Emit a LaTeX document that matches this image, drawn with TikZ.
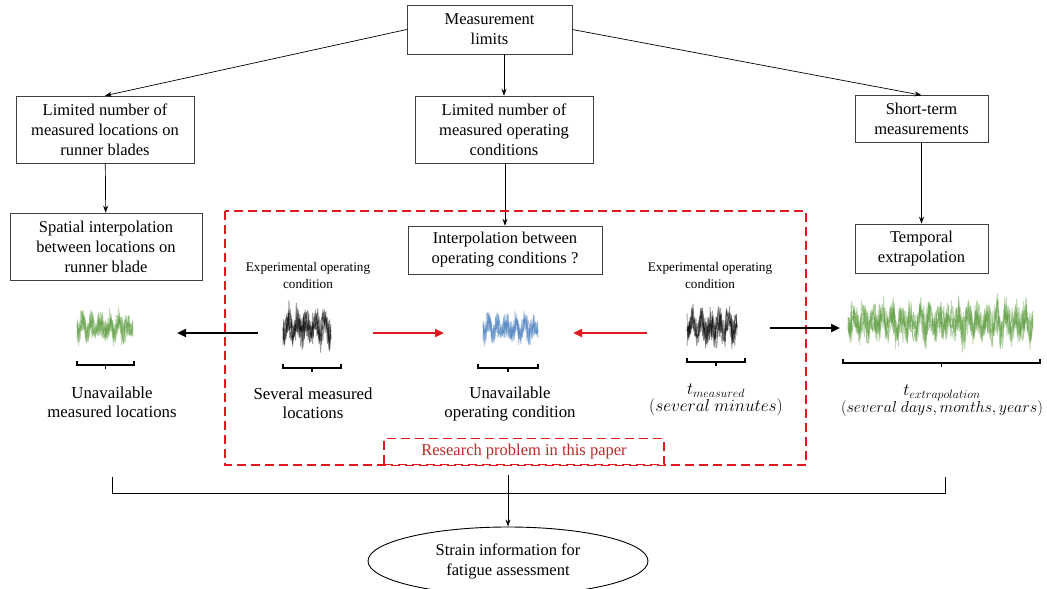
\documentclass[tikz,border=0pt]{standalone}
\usepackage{graphicx}
\usepackage{fontspec}
\setmainfont{Liberation Serif}
\usetikzlibrary{arrows.meta,shapes.geometric}
\definecolor{sgreen}{RGB}{90,155,60}
\definecolor{sblue}{RGB}{70,125,190}
\definecolor{rdash}{RGB}{225,25,30}
\definecolor{rtext}{RGB}{190,40,40}
\newcommand{\mysig}[7]{%
  \foreach \k in {1,...,6}{%
    \pgfmathsetseed{\k*37+#6}%
    \draw[#5, opacity=0.38, line width=0.9pt, line join=round]
      plot[domain=#1:#2, samples=#6]
      (\x, {#3 + #4*0.3*sin(((\x-#1)/#7)*360 + \k*12)*(0.7+0.3*sin(((\x-#1)/#7)*97))
            + #4*0.66*rand*abs(rand)^0.6});
  }%
}
\newcommand{\mybrack}[3]{%
  \draw[line width=1.1pt] (#1,#3-4) -- (#1,#3) -- (#2,#3) -- (#2,#3-4);
  \draw[line width=1.1pt] ({(#1+#2)/2},#3) -- ({(#1+#2)/2},#3+4);
}
\begin{document}
\begin{tikzpicture}[x=1pt,y=-1pt,
  box/.style={draw=black!75, line width=0.6pt, align=center, inner sep=0pt,
    font=\fontsize{16.5}{20}\selectfont},
  txt/.style={align=center, inner sep=0pt, font=\fontsize{16.8}{19}\selectfont},
  mtxt/.style={align=center, inner sep=0pt, font=\fontsize{17}{17}\selectfont},
  smalltxt/.style={align=center, inner sep=0pt, font=\fontsize{13.2}{17}\selectfont},
  arr/.style={-{Stealth[length=7pt,width=5pt]}, line width=0.7pt},
  bigarr/.style={-{Triangle[length=9pt,width=8pt]}, line width=2.4pt},
  redarr/.style={-{Triangle[length=9pt,width=8pt]}, line width=2.4pt, draw=rdash, fill=rdash},
  reddash/.style={draw=rdash, line width=1.8pt, dash pattern=on 9pt off 5pt}]
\useasboundingbox (0,0) rectangle (1047,589);

% boxes
\node[box, minimum width=165, minimum height=49] (m) at (489.5,29.5) {Measurement\\limits};
\node[box, minimum width=178, minimum height=67] (l1) at (105,129.5) {Limited number of\\measured locations on\\runner blades};
\node[box, minimum width=178, minimum height=67] (c1) at (504,129.5) {Limited number of\\measured operating\\conditions};
\node[box, minimum width=133, minimum height=47] (r1) at (921.5,119) {Short-term\\measurements};
\node[box, minimum width=192, minimum height=67] (l2) at (106,246.5) {Spatial interpolation\\between locations on\\runner blade};
\node[box, minimum width=194, minimum height=48] (c2) at (505,250) {Interpolation between\\operating conditions ?};
\node[box, minimum width=133, minimum height=49] (r2) at (921.5,248.5) {Temporal\\extrapolation};

\draw[arr] (m.west) -- (l1.north);
\draw[arr] (m.south -| c1.north) -- (c1.north);
\draw[arr] (m.east) -- (r1.north);
\draw[arr] (l1) -- (l2);
\draw[arr] (c1.south -| c2.north) -- (c2.north);
\draw[arr] (r1) -- (r2);

% red research region
\draw[reddash] (225,211) rectangle (806,465);
\node[draw=rdash, line width=1.8pt, dash pattern=on 9pt off 5pt, fill=white,
  minimum width=280, minimum height=26, inner sep=0pt, text=rtext,
  font=\fontsize{16.5}{18}\selectfont] (rp) at (524,451.5) {Research problem in this paper};

% signals
\mysig{77}{133}{328}{25}{sgreen}{75}{9}
\mysig{283}{331}{327}{30}{black}{66}{9}
\mysig{483}{538}{329}{24}{sblue}{75}{9}
\mysig{687}{737}{327}{30}{black}{68}{9}
\mysig{848}{1033}{322}{33}{sgreen}{250}{9.5}

\mybrack{77}{134}{365}
\mybrack{283}{341}{368}
\mybrack{478}{538}{368}
\mybrack{687}{745}{362}
\mybrack{843}{1040}{363}

% labels
\node[txt] (tL) at (112,402) {Unavailable\\measured locations};
\node[smalltxt] (eL) at (308,275) {Experimental operating\\condition};
\node[txt] (tS) at (313,403) {Several measured\\locations};
\node[txt] (tC) at (510,404) {Unavailable\\operating condition};
\node[smalltxt] (eR) at (710,275) {Experimental operating\\condition};
\node[mtxt] (tm) at (716,400) {$t_{measured}$\\$(several\ minutes)$};
\node[mtxt] (te) at (942,401) {$t_{extrapolation}$\\\scalebox{0.92}{$(several\ days, months, years)$}};

% horizontal arrows
\coordinate (a1s) at (258,333); \coordinate (a1e) at (177,333);
\coordinate (a2s) at (373,333); \coordinate (a2e) at (444,333);
\coordinate (a3s) at (647,333); \coordinate (a3e) at (573,333);
\coordinate (a4s) at (770,328); \coordinate (a4e) at (840,328);
\draw[bigarr] (a1s) -- (a1e);
\draw[redarr] (a2s) -- (a2e);
\draw[redarr] (a3s) -- (a3e);
\draw[bigarr] (a4s) -- (a4e);

% bottom bracket and result
\node[draw=black, line width=0.9pt, ellipse, minimum width=280, minimum height=68,
  inner sep=0pt, align=center, font=\fontsize{16.5}{20}\selectfont] (e) at (508,561)
  {Strain information for\\fatigue assessment};
\coordinate (bc) at (508,493);
\draw[line width=1pt] (112,477) -- (112,493) -- (945,493) -- (945,477);
\draw[line width=0.8pt] (508,475) -- (bc);
\draw[arr] (bc) -- (e.north);
\end{tikzpicture}
\end{document}
